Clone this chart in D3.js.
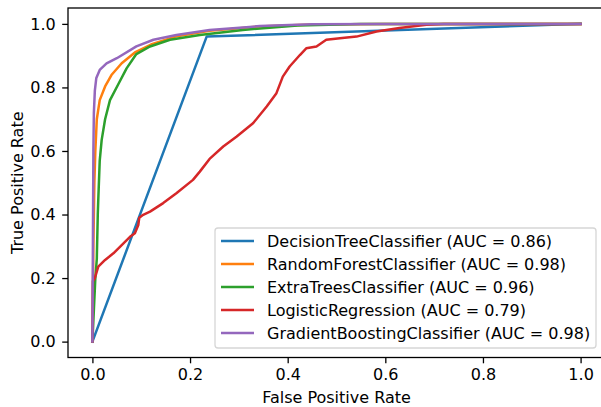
<!DOCTYPE html>
<html>
<head>
<meta charset="utf-8">
<script src="https://cdn.jsdelivr.net/npm/d3@7"></script>
<style>
  body { margin: 0; background: #fff; }
  svg { display: block; font-family: "DejaVu Sans", sans-serif; }
</style>
</head>
<body>
<div id="chart-area"></div>
<script>
// ROC curve data (fpr, tpr pairs)
const names = ["DecisionTreeClassifier", "RandomForestClassifier", "ExtraTreesClassifier",
    "LogisticRegression", "GradientBoostingClassifier"];
const aucs = [0.86, 0.98, 0.96, 0.79, 0.98];
const colors = ["#1f77b4", "#ff7f0e", "#2ca02c", "#d62728", "#9467bd"];
const tickValues = [0, 0.2, 0.4, 0.6, 0.8, 1.0];

const dtFpr = [0, 0.234, 1];
const dtTpr = [0, 0.960, 1];

const rfFpr = [0, 0.002, 0.004, 0.006, 0.009, 0.015, 0.026, 0.039, 0.06, 0.087, 0.12, 0.17, 0.24, 0.34, 0.45, 0.6, 1];
const rfTpr = [0, 0.30, 0.50, 0.60, 0.70, 0.76, 0.803, 0.839, 0.876, 0.91, 0.935, 0.96, 0.978, 0.992, 0.998, 1, 1];

const etFpr = [0, 0.003, 0.006, 0.009, 0.011, 0.012, 0.015, 0.019, 0.026, 0.036, 0.053, 0.07, 0.09, 0.118, 0.159, 0.22, 0.308, 0.42, 0.55, 1];
const etTpr = [0, 0.10, 0.20, 0.26, 0.40, 0.446, 0.57, 0.635, 0.70, 0.76, 0.81, 0.86, 0.905, 0.929, 0.95, 0.965, 0.981, 0.995, 1, 1];

const lrFpr = [0, 0.001, 0.005, 0.012, 0.026, 0.043, 0.06, 0.077, 0.087, 0.094, 0.096, 0.104, 0.118, 0.145, 0.172, 0.206,
    0.22, 0.24, 0.268, 0.295, 0.329, 0.357, 0.377, 0.39, 0.404, 0.425, 0.438, 0.459, 0.479, 0.507, 0.541, 0.582, 0.629, 0.684, 0.72, 1];
const lrTpr = [0, 0.19, 0.20, 0.236, 0.257, 0.278, 0.304, 0.33, 0.341, 0.367, 0.39, 0.399, 0.409, 0.436, 0.467, 0.509,
    0.535, 0.575, 0.614, 0.645, 0.687, 0.74, 0.782, 0.834, 0.866, 0.902, 0.923, 0.929, 0.95, 0.955, 0.96, 0.976, 0.987, 0.997, 1, 1];

const gbFpr = [0, 0.001, 0.002, 0.003, 0.005, 0.008, 0.015, 0.029, 0.05, 0.09, 0.125, 0.172, 0.24, 0.343, 0.45, 0.6, 1];
const gbTpr = [0, 0.30, 0.60, 0.72, 0.79, 0.83, 0.855, 0.876, 0.892, 0.929, 0.95, 0.965, 0.981, 0.993, 0.999, 1, 1];

const fprs = [dtFpr, rfFpr, etFpr, lrFpr, gbFpr];
const tprs = [dtTpr, rfTpr, etTpr, lrTpr, gbTpr];

// plot box in pixels (right edge runs off the page like the original)
const W = 601, H = 407;
const box = { left: 68, right: 605, top: 8, bottom: 357.5 };
const fontSize = 16;

const svg = d3.select("#chart-area")
    .append("svg")
    .attr("width", W)
    .attr("height", H);

const x = d3.scaleLinear().domain([-0.05, 1.05]).range([box.left, box.right]);
const y = d3.scaleLinear().domain([-0.05, 1.05]).range([box.bottom, box.top]);

svg.append("defs").append("clipPath")
    .attr("id", "plot-clip")
    .append("rect")
    .attr("x", box.left)
    .attr("y", box.top)
    .attr("width", box.right - box.left)
    .attr("height", box.bottom - box.top);

// CURVES
const line = d3.line()
    .x(function (d) { return x(d[0]); })
    .y(function (d) { return y(d[1]); });

const series = names.map(function (n, i) {
    return fprs[i].map(function (f, j) { return [f, tprs[i][j]]; });
});

svg.append("g")
    .attr("clip-path", "url(#plot-clip)")
    .selectAll("path")
    .data(series)
    .enter()
    .append("path")
    .attr("d", line)
    .attr("fill", "none")
    .attr("stroke", function (d, i) { return colors[i]; })
    .attr("stroke-width", 2.5)
    .attr("stroke-linejoin", "round")
    .attr("stroke-linecap", "square");

// AXES
const xAxisCall = d3.axisBottom(x)
    .tickValues(tickValues)
    .tickSizeOuter(0)
    .tickSize(5.8)
    .tickPadding(5.8)
    .tickFormat(d3.format(".1f"));
const xg = svg.append("g")
    .attr("transform", "translate(0, " + box.bottom + ")")
    .call(xAxisCall);

const yAxisCall = d3.axisLeft(y)
    .tickValues(tickValues)
    .tickSizeOuter(0)
    .tickSize(5.8)
    .tickPadding(6.5)
    .tickFormat(d3.format(".1f"));
const yg = svg.append("g")
    .attr("transform", "translate(" + box.left + ", 0)")
    .call(yAxisCall);

[xg, yg].forEach(function (g) {
    g.select(".domain").remove();
    g.selectAll(".tick line").attr("stroke", "#000").attr("stroke-width", 1.3);
    g.selectAll("text")
        .attr("font-family", "DejaVu Sans")
        .attr("font-size", fontSize)
        .attr("fill", "#000");
});

// FRAME
svg.append("rect")
    .attr("x", box.left)
    .attr("y", box.top)
    .attr("width", box.right - box.left)
    .attr("height", box.bottom - box.top)
    .attr("fill", "none")
    .attr("stroke", "#000")
    .attr("stroke-width", 1.3);

// AXIS LABELS
svg.append("text")
    .attr("x", x(0.5))
    .attr("y", 403)
    .attr("font-size", fontSize)
    .attr("text-anchor", "middle")
    .text("False Positive Rate");

svg.append("text")
    .attr("transform", "translate(23, " + y(0.5) + ") rotate(-90)")
    .attr("font-size", fontSize)
    .attr("text-anchor", "middle")
    .text("True Positive Rate");

// LEGEND
const legend = svg.append("g");
legend.append("rect")
    .attr("x", 215)
    .attr("y", 228)
    .attr("width", 381)
    .attr("height", 120)
    .attr("rx", 3)
    .attr("fill", "#fff")
    .attr("fill-opacity", 0.8)
    .attr("stroke", "#d6d6d6")
    .attr("stroke-width", 1.3);

const rows = legend.selectAll("g.row")
    .data(names)
    .enter()
    .append("g")
    .attr("class", "row")
    .attr("transform", function (d, i) { return "translate(0, " + (241 + i * 23) + ")"; });

rows.append("line")
    .attr("x1", 221)
    .attr("x2", 254)
    .attr("stroke", function (d, i) { return colors[i]; })
    .attr("stroke-width", 2.5);

rows.append("text")
    .attr("x", 267)
    .attr("dy", "0.35em")
    .attr("font-size", fontSize)
    .text(function (d, i) { return d + " (AUC = " + aucs[i].toFixed(2) + ")"; });
</script>
</body>
</html>
